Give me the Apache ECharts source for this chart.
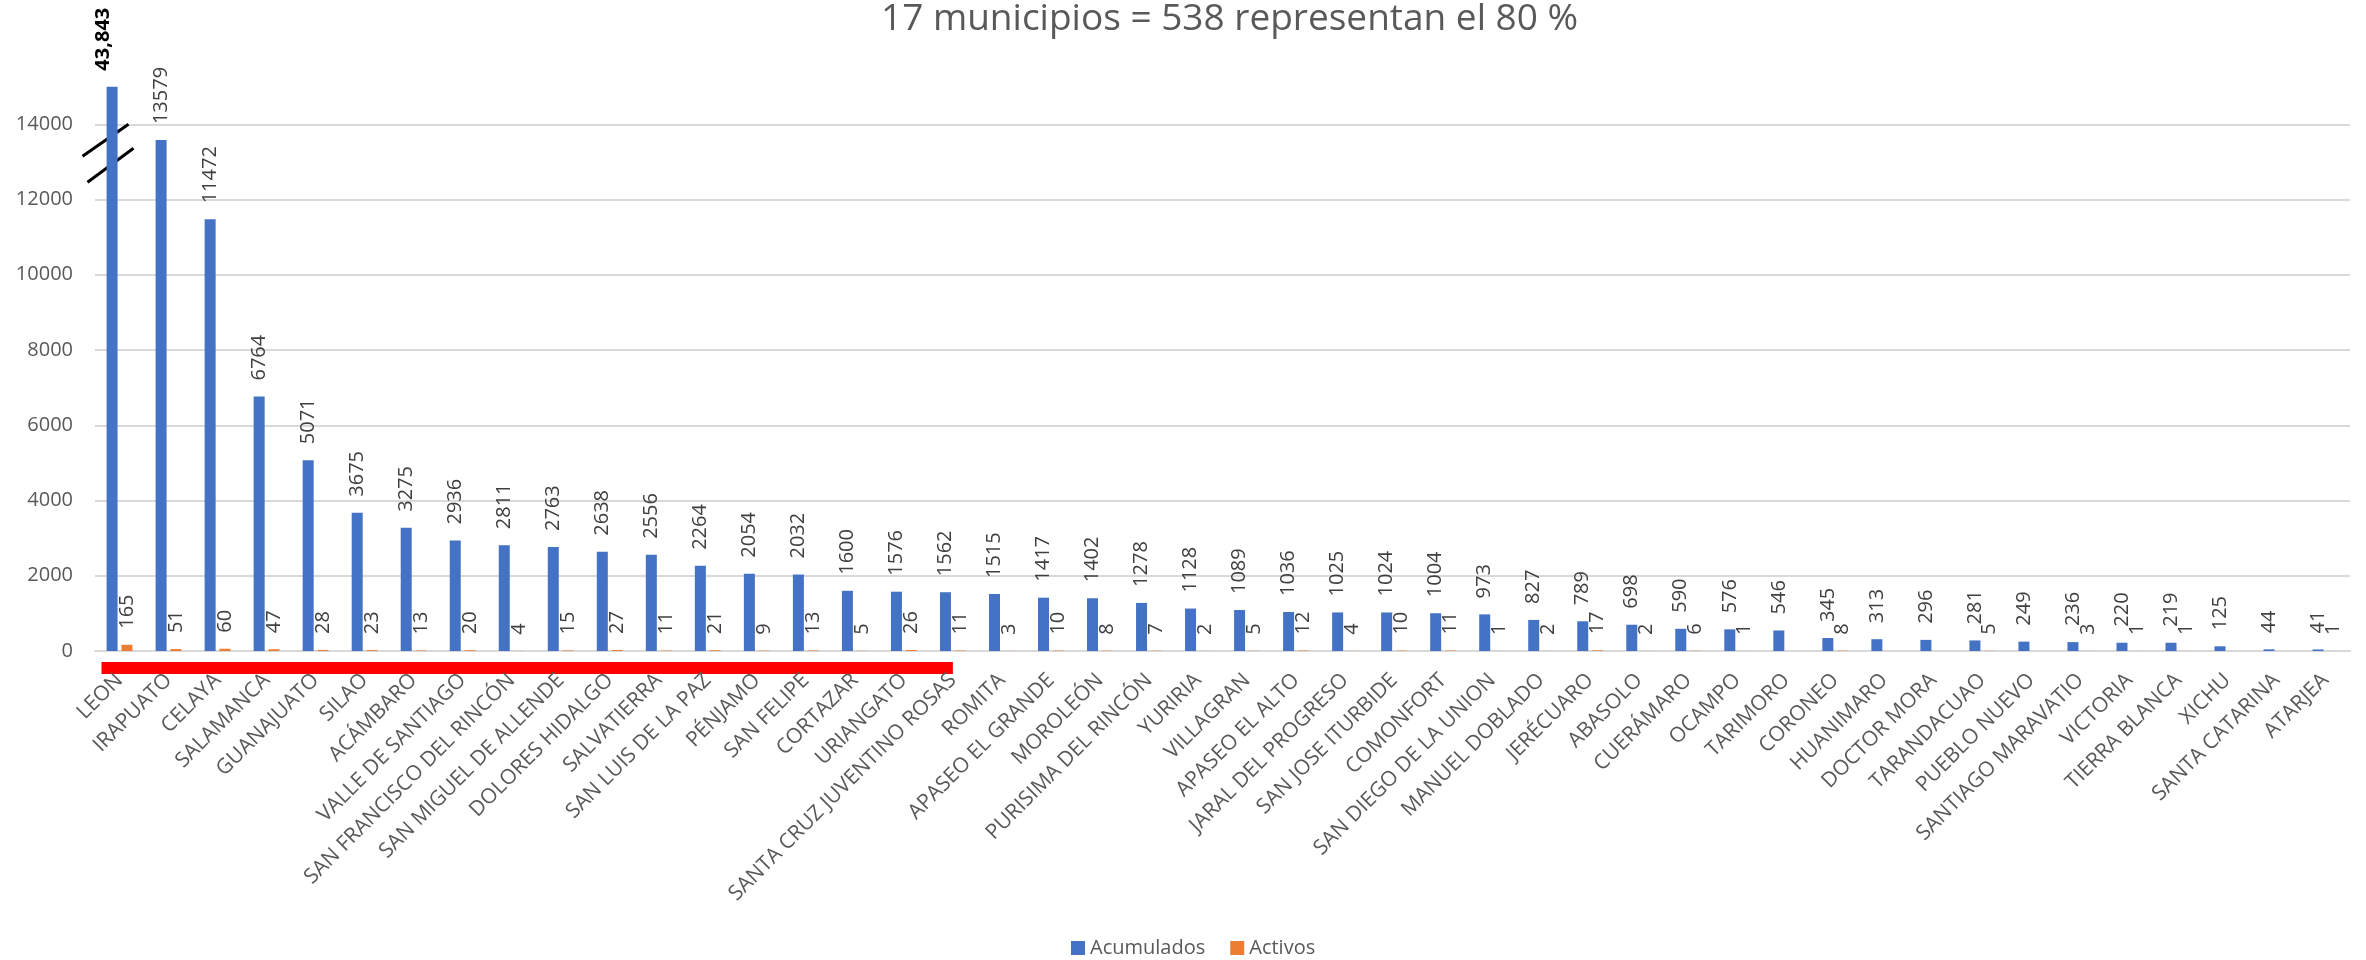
<!DOCTYPE html>
<html>
<head>
<meta charset="utf-8">
<script src="https://cdn.jsdelivr.net/npm/echarts@6/dist/echarts.min.js"></script>
<style>
  html, body { margin: 0; padding: 0; background: #fff; }
  #chart { width: 2366px; height: 960px; }
</style>
</head>
<body>
<div id="chart"></div>
<script>
const municipios = ['LEON', 'IRAPUATO', 'CELAYA', 'SALAMANCA', 'GUANAJUATO', 'SILAO', 'ACÁMBARO',
  'VALLE DE SANTIAGO', 'SAN FRANCISCO DEL RINCÓN', 'SAN MIGUEL DE ALLENDE', 'DOLORES HIDALGO',
  'SALVATIERRA', 'SAN LUIS DE LA PAZ', 'PÉNJAMO', 'SAN FELIPE', 'CORTAZAR', 'URIANGATO',
  'SANTA CRUZ JUVENTINO ROSAS', 'ROMITA', 'APASEO EL GRANDE', 'MOROLEÓN', 'PURISIMA DEL RINCÓN',
  'YURIRIA', 'VILLAGRAN', 'APASEO EL ALTO', 'JARAL DEL PROGRESO', 'SAN JOSE ITURBIDE', 'COMONFORT',
  'SAN DIEGO DE LA UNION', 'MANUEL DOBLADO', 'JERÉCUARO', 'ABASOLO', 'CUERÁMARO', 'OCAMPO',
  'TARIMORO', 'CORONEO', 'HUANIMARO', 'DOCTOR MORA', 'TARANDACUAO', 'PUEBLO NUEVO',
  'SANTIAGO MARAVATIO', 'VICTORIA', 'TIERRA BLANCA', 'XICHU', 'SANTA CATARINA', 'ATARJEA']

const acumulados = [43843, 13579, 11472, 6764, 5071, 3675, 3275, 2936, 2811, 2763, 2638, 2556, 2264,
  2054, 2032, 1600, 1576, 1562, 1515, 1417, 1402, 1278, 1128, 1089, 1036, 1025, 1024, 1004, 973,
  827, 789, 698, 590, 576, 546, 345, 313, 296, 281, 249, 236, 220, 219, 125, 44, 41]

const activos = [165, 51, 60, 47, 28, 23, 13, 20, 4, 15, 27, 11, 21, 9, 13, 5, 26, 11, 3, 10, 8, 7,
  2, 5, 12, 4, 10, 11, 1, 2, 17, 2, 6, 1, null, 8, null, null, 5, null, 3, 1, 1, null, null, 1]

const yTicks = [0, 2000, 4000, 6000, 8000, 10000, 12000, 14000, 16000]
// bars taller than this are cut and marked with a break
const cap = 15000
// the 80 % group ends at this municipio
const lastOfGroup = 'SANTA CRUZ JUVENTINO ROSAS'

const font = 'Open Sans'
const chart = echarts.init(document.getElementById('chart'))

const acumData = acumulados.map(v => {
  if (v > cap) {
    return { value: cap, label: { fontWeight: 'bold', color: '#000', offset: [0, -9] } }
  }
  return v
})

const gridColors = yTicks.map((t, i) => i === yTicks.length - 1 ? 'rgba(0,0,0,0)' : '#d9d9d9')

chart.setOption({
  animation: false,
  title: {
    text: '17 municipios = 538 representan el 80 %',
    left: 876,
    top: -4,
    textStyle: { fontFamily: font, fontSize: 37, fontWeight: 'normal', color: '#595959' }
  },
  legend: {
    data: ['Acumulados', 'Activos'],
    bottom: -3,
    left: 1066,
    itemWidth: 14,
    itemHeight: 14,
    itemGap: 25,
    icon: 'rect',
    textStyle: { fontFamily: font, fontSize: 20, color: '#595959' }
  },
  grid: { left: 95, right: 16, top: 49, bottom: 309 },
  xAxis: {
    type: 'category',
    data: municipios,
    axisLine: { lineStyle: { color: '#d9d9d9', width: 2 } },
    axisTick: { show: false },
    axisLabel: {
      interval: 0,
      rotate: 45,
      margin: 26,
      fontFamily: font,
      fontSize: 21,
      color: '#595959'
    }
  },
  yAxis: {
    type: 'value',
    min: 0,
    max: 16000,
    interval: 2000,
    axisLine: { show: false },
    axisTick: { show: false },
    splitLine: { lineStyle: { color: gridColors, width: 2 } },
    axisLabel: {
      showMaxLabel: false,
      margin: 22,
      fontFamily: font,
      fontSize: 20,
      color: '#595959',
      formatter: v => String(v)
    }
  },
  series: [
    {
      name: 'Acumulados',
      type: 'bar',
      data: acumData,
      barWidth: 11,
      barGap: '35%',
      itemStyle: { color: '#4472C4' },
      label: {
        show: true,
        position: 'top',
        rotate: 90,
        align: 'left',
        verticalAlign: 'middle',
        distance: 16,
        fontFamily: font,
        fontSize: 20,
        color: '#404040',
        formatter: p => {
          const v = acumulados[p.dataIndex]
          return v > cap ? v.toLocaleString('en-US') : String(v)
        }
      }
    },
    {
      name: 'Activos',
      type: 'bar',
      data: activos,
      barWidth: 11,
      itemStyle: { color: '#ED7D31' },
      label: {
        show: true,
        position: 'top',
        rotate: 90,
        align: 'left',
        verticalAlign: 'middle',
        distance: 16,
        fontFamily: font,
        fontSize: 20,
        color: '#404040'
      }
    }
  ]
})

// break marks over the cut bar and the red band under the top group
const graphics = []
acumulados.forEach((v, i) => {
  if (v <= cap) return
  const a = chart.convertToPixel({ seriesIndex: 0 }, [i, 13150])
  const b = chart.convertToPixel({ seriesIndex: 0 }, [i, 14000])
  const c = chart.convertToPixel({ seriesIndex: 0 }, [i, 12460])
  const d = chart.convertToPixel({ seriesIndex: 0 }, [i, 13360])
  const cx = a[0] - 7
  graphics.push({
    type: 'line',
    shape: { x1: cx - 30, y1: a[1], x2: cx + 16, y2: b[1] },
    style: { stroke: '#000', lineWidth: 3 }
  })
  graphics.push({
    type: 'line',
    shape: { x1: cx - 25, y1: c[1], x2: cx + 21, y2: d[1] },
    style: { stroke: '#000', lineWidth: 3 }
  })
})
const p0 = chart.convertToPixel({ seriesIndex: 0 }, [0, 0])
const p1 = chart.convertToPixel({ seriesIndex: 0 }, [municipios.indexOf(lastOfGroup), 0])
graphics.push({
  type: 'rect',
  shape: { x: p0[0] - 18, y: p0[1] + 11, width: p1[0] - p0[0] + 18, height: 12 },
  style: { fill: '#ff0000' }
})
chart.setOption({ graphic: graphics })
</script>
</body>
</html>
